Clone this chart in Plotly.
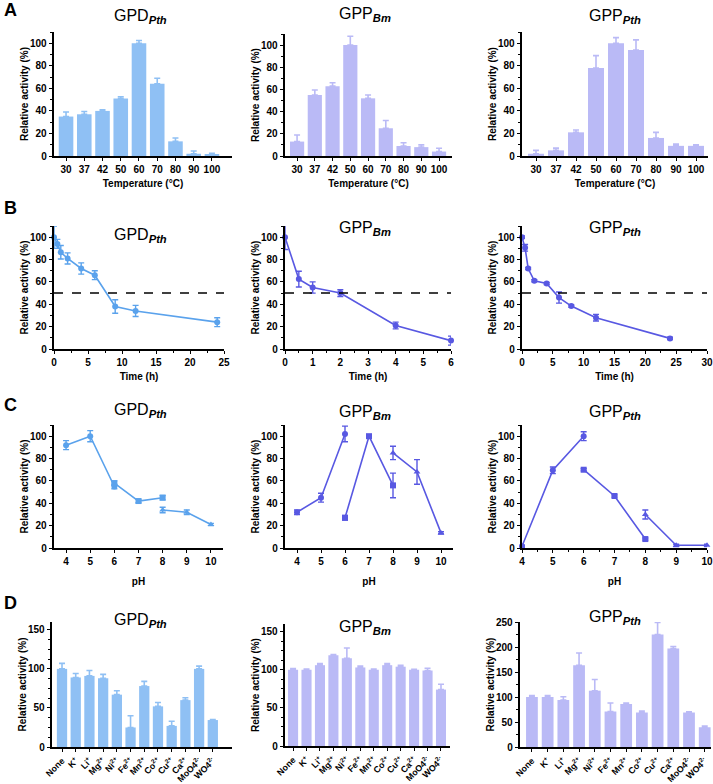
import plotly.graph_objects as go

W, H = 713, 784
FONT = "Arial, 'Liberation Sans', Helvetica, sans-serif"
C_GPD_BAR = "#8fc0f4"
C_GPP_BAR = "#babaf6"
C_GPD_LINE = "#5aa2ec"
C_GPP_LINE = "#5858e2"

enzyme_titles = ["GPD<sub><b><i>Pth</i></b></sub>",
                 "GPP<sub><b><i>Bm</i></b></sub>",
                 "GPP<sub><b><i>Pth</i></b></sub>"]

# ---------- A: temperature ----------
temps = ["30", "37", "42", "50", "60", "70", "80", "90", "100"]
temp_gpd_pth = [35, 37, 40, 51, 100, 64, 13, 2, 1]
temp_gpd_pth_err = [4, 2.5, 1, 1.5, 2.5, 5, 3, 2.5, 1.5]
temp_gpp_bm = [13, 55, 63, 100, 52, 25, 9, 8, 4]
temp_gpp_bm_err = [6, 4.5, 3, 8, 3, 7, 3, 2, 3]
temp_gpp_pth = [2, 5, 21, 78, 100, 94, 16, 9, 9]
temp_gpp_pth_err = [3, 2, 2, 11, 5, 9, 5, 1.5, 1]

# ---------- B: thermostability ----------
time_gpd_pth = [0, 0.5, 1, 2, 4, 6, 9, 12, 24]
stab_gpd_pth = [100, 94, 86.5, 81, 72, 66, 38, 34, 24]
stab_gpd_pth_err = [10, 4, 6, 5, 5, 4, 6, 5, 4]
time_gpp_bm = [0, 0.5, 1, 2, 4, 6]
stab_gpp_bm = [100, 62.5, 55, 50, 21, 7.5]
stab_gpp_bm_err = [11, 7, 5, 3, 3, 4]
time_gpp_pth = [0, 0.5, 1, 2, 4, 6, 8, 12, 24]
stab_gpp_pth = [100, 90.5, 72, 61, 58.6, 46, 38.4, 28, 9.5]
stab_gpp_pth_err = [1, 3, 1, 1, 1, 5, 1, 3, 1]
half_line = 50

# ---------- C: pH (three buffers) ----------
ph_buf1 = [4, 5, 6]
ph_buf2 = [6, 7, 8]
ph_buf3 = [8, 9, 10]
ph_gpd_pth = ([92, 100, 55], [58, 42, 45], [34, 32, 21])
ph_gpd_pth_err = ([4, 5, 2], [2, 1.5, 2], [2.5, 2, 1])
ph_gpp_bm = ([32, 45, 102], [27, 100, 56], [85, 68, 13.5])
ph_gpp_bm_err = ([2, 4, 7], [2, 1, 11], [6, 11, 1])
ph_gpp_pth = ([1.5, 69.5, 100], [70, 46.5, 8], [30, 2.4, 2.4])
ph_gpp_pth_err = ([1, 3, 4], [1, 1, 1], [4, 1, 1])

# ---------- D: metal ions ----------
ions = ["None", "K<sup>+</sup>", "Li<sup>+</sup>", "Mg<sup>2+</sup>", "Ni<sup>2+</sup>",
        "Fe<sup>2+</sup>", "Mn<sup>2+</sup>", "Co<sup>2+</sup>", "Cu<sup>2+</sup>",
        "Ca<sup>2+</sup>", "MoO4<sup>2-</sup>", "WO4<sup>2-</sup>"]
ion_gpd_pth = [100, 89, 91, 88, 67, 25, 78, 52, 27, 60, 100, 34.5]
ion_gpd_pth_err = [7, 5, 7, 5, 5, 15, 6, 5, 6, 3, 3.5, 0.5]
ion_gpp_bm = [100, 100, 106, 119, 115, 103, 100, 106, 104, 100, 99, 74]
ion_gpp_bm_err = [1.5, 1, 2, 1, 13.6, 2, 1, 2, 2, 0.5, 3, 7]
ion_gpp_pth = [100, 100, 94, 163.5, 112.6, 71, 86, 69, 225, 197, 69, 39.5]
ion_gpp_pth_err = [3, 3, 6.5, 24.5, 22.4, 17, 2, 2.7, 24, 4, 1.4, 2.5]


def xdom(a, b):
    return [a / W, b / W]


def ydom(top, bottom):
    return [1 - bottom / H, 1 - top / H]


fig = go.Figure()
layout = {}
annotations = []
shapes = []

TICKFONT = dict(family=FONT, size=10, color="black", weight="bold")
TITLEFONT = dict(family=FONT, size=10, color="black", weight="bold")


def axes(i, xd, yd, xkw, ykw):
    xs = "xaxis" if i == 1 else f"xaxis{i}"
    ys = "yaxis" if i == 1 else f"yaxis{i}"
    base = dict(showline=True, linecolor="black", linewidth=1.6, ticks="outside",
                ticklen=3.5, tickwidth=1.4, tickcolor="black", showgrid=False,
                zeroline=False, tickfont=TICKFONT, fixedrange=True, automargin=False)
    xa = dict(base, domain=xd, anchor=f"y{i}")
    xa.update(xkw)
    ya = dict(base, domain=yd, anchor=f"x{i}")
    ya.update(ykw)
    layout[xs] = xa
    layout[ys] = ya


def ytitle(txt="Relative activity (%)"):
    return dict(text=txt, font=TITLEFONT, standoff=0)


def add_bar(i, cats, vals, errs, color, width):
    fig.add_trace(go.Bar(x=cats, y=vals, marker=dict(color=color, line=dict(width=0)),
                         width=width,
                         error_y=dict(type="data", array=errs, arrayminus=[0] * len(errs),
                                      symmetric=False, color=color, thickness=1.6, width=3),
                         xaxis=f"x{i}", yaxis=f"y{i}", showlegend=False))


def add_line(i, xs, ys, errs, color, symbol="circle"):
    fig.add_trace(go.Scatter(x=xs, y=ys, mode="lines+markers",
                             line=dict(color=color, width=1.6),
                             marker=dict(color=color, size=6, symbol=symbol),
                             error_y=dict(type="data", array=errs, color=color,
                                          thickness=1.4, width=3),
                             xaxis=f"x{i}", yaxis=f"y{i}", showlegend=False, cliponaxis=False))


def title(xc, yc, txt):
    annotations.append(dict(text=txt, x=xc / W, y=1 - yc / H, xref="paper", yref="paper",
                            showarrow=False, xanchor="center", yanchor="middle",
                            font=dict(family=FONT, size=16, color="black")))


def letter(xc, yc, txt):
    annotations.append(dict(text=f"<b>{txt}</b>", x=xc / W, y=1 - yc / H, xref="paper",
                            yref="paper", showarrow=False, xanchor="left", yanchor="middle",
                            font=dict(family=FONT, size=18, color="black")))


MINOR = dict(ticks="outside", ticklen=2.5, tickcolor="black", tickwidth=1.2)

# ---- Row A ----
colsA = [(54, 232, 32, 156, [-0.66, 9.1]), (285, 452, 34, 156, [-0.68, 8.73]),
         (522, 708, 32, 156, [-0.7, 8.6])]
dataA = [(temp_gpd_pth, temp_gpd_pth_err, C_GPD_BAR), (temp_gpp_bm, temp_gpp_bm_err, C_GPP_BAR),
         (temp_gpp_pth, temp_gpp_pth_err, C_GPP_BAR)]
for k in range(3):
    i = 1 + k
    a, b, t, bt, xr = colsA[k]
    v, e, c = dataA[k]
    add_bar(i, temps, v, e, c, 0.8)
    axes(i, xdom(a, b), ydom(t, bt),
         dict(type="category", range=xr, title=dict(text="Temperature (°C)", font=TITLEFONT, standoff=6)),
         dict(range=[0, 110], tick0=0, dtick=20, title=ytitle(), minor=dict(MINOR, dtick=10)))

# ---- Row B ----
colsB = [(54, 224, 226, 349, [0, 25], 5, 2.5), (285, 451, 226, 349, [0, 6], 1, 0.5),
         (522, 707, 226, 349, [0, 30], 5, 2.5)]
dataB = [(time_gpd_pth, stab_gpd_pth, stab_gpd_pth_err, C_GPD_LINE),
         (time_gpp_bm, stab_gpp_bm, stab_gpp_bm_err, C_GPP_LINE),
         (time_gpp_pth, stab_gpp_pth, stab_gpp_pth_err, C_GPP_LINE)]
for k in range(3):
    i = 4 + k
    a, b, t, bt, xr, dt, mdt = colsB[k]
    xs, ys, es, c = dataB[k]
    add_line(i, xs, ys, es, c)
    axes(i, xdom(a, b), ydom(t, bt),
         dict(range=xr, tick0=0, dtick=dt, title=dict(text="Time (h)", font=TITLEFONT, standoff=6),
              minor=dict(MINOR, dtick=mdt)),
         dict(range=[0, 110], tick0=0, dtick=20, title=ytitle(), minor=dict(MINOR, dtick=10)))
    shapes.append(dict(type="line", xref=f"x{i} domain", yref=f"y{i}", x0=0, x1=1,
                       y0=half_line, y1=half_line, line=dict(color="black", width=1.5, dash="dash")))

# ---- Row C ----
colsC = [(54, 223, 425, 548, [3.5, 10.5], None), (285, 453, 425, 548, [3.5, 10.5], None),
         (522, 707, 425, 548, [4, 10], 0.5)]
dataC = [(ph_gpd_pth, ph_gpd_pth_err, C_GPD_LINE), (ph_gpp_bm, ph_gpp_bm_err, C_GPP_LINE),
         (ph_gpp_pth, ph_gpp_pth_err, C_GPP_LINE)]
for k in range(3):
    i = 7 + k
    a, b, t, bt, xr, mdt = colsC[k]
    vals, errs, c = dataC[k]
    for phs, v, e, sym in zip([ph_buf1, ph_buf2, ph_buf3], vals, errs,
                              ["circle", "square", "triangle-up"]):
        add_line(i, phs, v, e, c, sym)
    xkw = dict(range=xr, tick0=4, dtick=1, title=dict(text="pH", font=TITLEFONT, standoff=12))
    if mdt:
        xkw["minor"] = dict(MINOR, dtick=mdt)
    axes(i, xdom(a, b), ydom(t, bt), xkw,
         dict(range=[0, 110], tick0=0, dtick=20, title=ytitle(), minor=dict(MINOR, dtick=10)))

# ---- Row D ----
colsD = [(52, 232, 622, 747, [-0.73, 12.4], [0, 160], 50, 12.5),
         (285, 450, 624, 746, [-0.6, 11.67], [0, 160], 50, 12.5),
         (520, 711, 622, 747, [-0.76, 11.4], [0, 250], 50, 25)]
dataD = [(ion_gpd_pth, ion_gpd_pth_err, C_GPD_BAR), (ion_gpp_bm, ion_gpp_bm_err, C_GPP_BAR),
         (ion_gpp_pth, ion_gpp_pth_err, C_GPP_BAR)]
for k in range(3):
    i = 10 + k
    a, b, t, bt, xr, yr, dt, mdt = colsD[k]
    v, e, c = dataD[k]
    add_bar(i, ions, v, e, c, 0.75)
    axes(i, xdom(a, b), ydom(t, bt),
         dict(type="category", range=xr, tickangle=-45,
              tickfont=dict(family=FONT, size=8.8, color="black", weight="bold")),
         dict(range=yr, tick0=0, dtick=dt, title=ytitle(), minor=dict(MINOR, dtick=mdt)))

# ---- titles & letters ----
for (xc, yc, txt) in [(140, 17, enzyme_titles[0]), (365, 15, enzyme_titles[1]), (615, 17, enzyme_titles[2]),
                      (140, 235, enzyme_titles[0]), (365, 229, enzyme_titles[1]), (615, 228, enzyme_titles[2]),
                      (140, 410, enzyme_titles[0]), (365, 412, enzyme_titles[1]), (615, 412, enzyme_titles[2]),
                      (140, 620, enzyme_titles[0]), (365, 627, enzyme_titles[1]), (615, 617, enzyme_titles[2])]:
    title(xc, yc, txt)
for (xc, yc, txt) in [(2, 10, "A"), (2, 208, "B"), (2, 405, "C"), (2, 603, "D")]:
    letter(xc, yc, txt)

fig.update_layout(width=W, height=H, margin=dict(l=0, r=0, t=0, b=0, autoexpand=False),
                  plot_bgcolor="white", paper_bgcolor="white", bargap=0.2,
                  font=dict(family=FONT, color="black"),
                  annotations=annotations, shapes=shapes, **layout)
fig.write_html("out.html", config={"displayModeBar": False},
               post_script="document.body.style.margin='0';document.body.style.overflow='hidden';")
